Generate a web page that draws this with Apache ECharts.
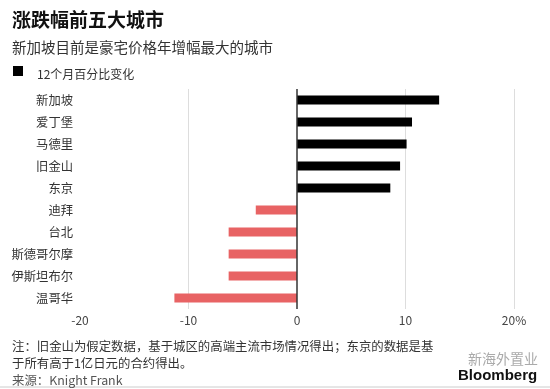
<!DOCTYPE html>
<html><head><meta charset="utf-8">
<script src="https://cdn.jsdelivr.net/npm/echarts@6/dist/echarts.min.js"></script>
<style>html,body{margin:0;padding:0;background:#fff}#c{width:550px;height:389px}</style>
</head><body><div id="c"></div>
<script>
const cities = ['新加坡','爱丁堡','马德里','旧金山','东京','迪拜','台北','斯德哥尔摩','伊斯坦布尔','温哥华'];
const changes = [13.1, 10.6, 10.1, 9.5, 8.6, -3.8, -6.3, -6.3, -6.3, -11.3];
const xTicks = [-20, -10, 0, 10, 20];
const F = '"Noto Sans CJK SC", "Noto Sans", sans-serif';
const chart = echarts.init(document.getElementById('c'), null, {renderer:'canvas'});
chart.setOption({
  backgroundColor:'#fff',
  animation:false,
  title:[
    {text:'涨跌幅前五大城市', left:7, top:5, textStyle:{fontFamily:F, fontSize:19, fontWeight:'bold', color:'#111'}},
    {text:'新加坡目前是豪宅价格年增幅最大的城市', left:7, top:35, textStyle:{fontFamily:F, fontSize:14.5, fontWeight:'normal', color:'#333'}},
    {text:'12个月百分比变化', left:32, top:63, textStyle:{fontFamily:F, fontSize:12, fontWeight:'normal', color:'#333'}},
    {text:'注：旧金山为假定数据，基于城区的高端主流市场情况得出；东京的数据是基\n于所有高于1亿日元的合约得出。', left:7, top:333, textStyle:{fontFamily:F, fontSize:12.4, fontWeight:'normal', color:'#333', lineHeight:17}},
    {text:'来源：Knight Frank', left:7, top:369, textStyle:{fontFamily:F, fontSize:12.4, fontWeight:'normal', color:'#555'}}
  ],
  graphic:[
    {type:'rect', shape:{x:13, y:66, width:10, height:10}, style:{fill:'#000'}},
    {type:'text', left:468, top:352, style:{text:'新海外置业', font:'14px '+F, fill:'#aaa'}},
    {type:'text', left:458, top:368, style:{text:'Bloomberg', font:'bold 15px Arial, "Liberation Sans", sans-serif', fill:'#111'}},
    {type:'line', shape:{x1:0, y1:387, x2:550, y2:387}, style:{stroke:'#ccc', lineWidth:1}}
  ],
  grid:{left:80, right:36, top:89, bottom:80},
  xAxis:{
    type:'value', min:xTicks[0], max:xTicks[xTicks.length-1], interval:10,
    axisLine:{show:false}, axisTick:{show:false},
    axisLabel:{fontFamily:F, fontSize:12, color:'#444', margin:5,
      formatter:v => v === xTicks[xTicks.length-1] ? v + '%' : String(v)},
    splitLine:{show:true, lineStyle:{color:['rgba(0,0,0,0)','#ddd','rgba(0,0,0,0)','#ddd','#ddd'], width:1}}
  },
  yAxis:{
    type:'category', data:cities, inverse:true,
    axisLine:{show:false}, axisTick:{show:false},
    axisLabel:{fontFamily:F, fontSize:12.3, color:'#333', margin:7}
  },
  series:[{
    type:'bar', barWidth:9,
    data:changes.map(v => ({value:v, itemStyle:{color: v >= 0 ? '#000' : '#e86364'}})),
    markLine:{silent:true, symbol:'none', label:{show:false},
      lineStyle:{color:'#333', width:1.5, type:'solid'},
      data:[{xAxis:0}]}
  }]
});
</script></body></html>
